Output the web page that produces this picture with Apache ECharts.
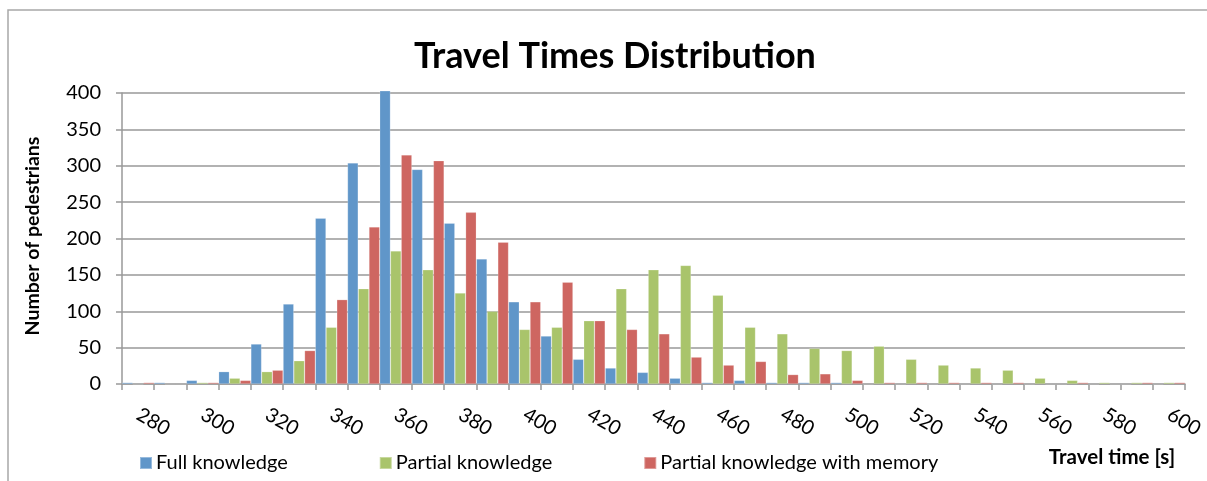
<!DOCTYPE html>
<html>
<head>
<meta charset="utf-8">
<script src="https://cdn.jsdelivr.net/npm/echarts@6/dist/echarts.min.js"></script>
<style>
  html, body { margin: 0; padding: 0; background: #fff; }
  #chart { width: 1207px; height: 481px; }
</style>
</head>
<body>
<div id="chart"></div>
<script>
// Travel time bins (s)
const categories = ['280','290','300','310','320','330','340','350','360','370','380','390','400','410','420','430','440','450','460','470','480','490','500','510','520','530','540','550','560','570','580','590','600'];

// Number of pedestrians per bin
const fullKnowledge = [2,2,5,17,55,110,228,304,403,295,221,172,113,66,34,22,16,8,2,5,2,2,2,0,0,0,0,0,0,0,0,0,0];
const partialKnowledge = [0,0,2,8,17,32,78,131,183,157,125,100,75,78,87,131,157,163,122,78,69,49,46,52,34,26,22,19,8,5,2,2,2];
const partialWithMemory = [2,0,2,5,19,46,116,216,315,307,236,195,113,140,87,75,69,37,26,31,13,14,5,2,2,2,2,2,0,2,0,2,2];

const seriesNames = ['Full knowledge', 'Partial knowledge', 'Partial knowledge with memory'];
const yTicks = [0, 50, 100, 150, 200, 250, 300, 350, 400];

const FONT = 'Lato';
const GRID_COLOR = '#999999';

const chart = echarts.init(document.getElementById('chart'), null, { renderer: 'canvas' });

function bar(name, data, color) {
  return {
    name: name,
    type: 'bar',
    data: data,
    clip: false,
    barGap: '0%',
    barCategoryGap: '0%',
    itemStyle: { color: color, borderColor: 'rgba(255,255,255,0.35)', borderWidth: 0.6 },
    emphasis: { disabled: true }
  };
}

chart.setOption({
  animation: false,
  backgroundColor: '#ffffff',
  textStyle: { fontFamily: FONT },
  title: {
    text: 'Travel Times Distribution',
    left: 610,
    textAlign: 'center',
    top: 33,
    textStyle: { fontFamily: FONT, fontSize: 36, fontWeight: 'bold', color: '#000' }
  },
  legend: {
    left: 134,
    top: 448,
    itemWidth: 12,
    itemHeight: 12,
    itemGap: 91,
    icon: 'rect',
    textStyle: { fontFamily: FONT, fontSize: 20, color: '#000', padding: [0, 0, 0, -1] },
    data: seriesNames
  },
  grid: { left: 122, right: 22, top: 93, bottom: 97, containLabel: false },
  xAxis: {
    type: 'category',
    data: categories,
    boundaryGap: true,
    axisLine: { lineStyle: { color: GRID_COLOR, width: 1.5 } },
    axisTick: { show: true, interval: 0, length: 6, alignWithLabel: false, lineStyle: { color: GRID_COLOR, width: 1.5 } },
    axisLabel: {
      interval: 1,
      rotate: -30,
      margin: 29,
      fontFamily: FONT,
      fontSize: 20,
      color: '#000'
    }
  },
  yAxis: {
    type: 'value',
    min: yTicks[0],
    max: yTicks[yTicks.length - 1],
    interval: 50,
    axisLine: { show: true, lineStyle: { color: GRID_COLOR, width: 1.5 } },
    axisTick: { show: true, length: 6, lineStyle: { color: GRID_COLOR, width: 1.5 } },
    splitLine: { show: true, lineStyle: { color: GRID_COLOR, width: 1.5 } },
    axisLabel: { margin: 21, fontFamily: FONT, fontSize: 20, color: '#000' }
  },
  series: [
    bar(seriesNames[0], fullKnowledge, '#6096c9'),
    bar(seriesNames[1], partialKnowledge, '#a9c46b'),
    bar(seriesNames[2], partialWithMemory, '#ce6661')
  ],
  graphic: [
    {
      type: 'rect',
      silent: true,
      shape: { x: 8, y: 10, width: 1400, height: 700 },
      style: { fill: null, stroke: '#a8a8a8', lineWidth: 1.5 }
    },
    {
      type: 'text',
      silent: true,
      x: 33,
      y: 236,
      rotation: Math.PI / 2,
      style: {
        text: 'Number of pedestrians',
        fontFamily: FONT,
        fontSize: 19.5,
        fontWeight: 'bold',
        fill: '#000',
        align: 'center',
        verticalAlign: 'middle'
      }
    },
    {
      type: 'text',
      silent: true,
      x: 1112,
      y: 457,
      style: {
        text: 'Travel time [s]',
        fontFamily: FONT,
        fontSize: 20.5,
        fontWeight: 'bold',
        fill: '#000',
        align: 'center',
        verticalAlign: 'middle'
      }
    }
  ]
});
</script>
</body>
</html>
